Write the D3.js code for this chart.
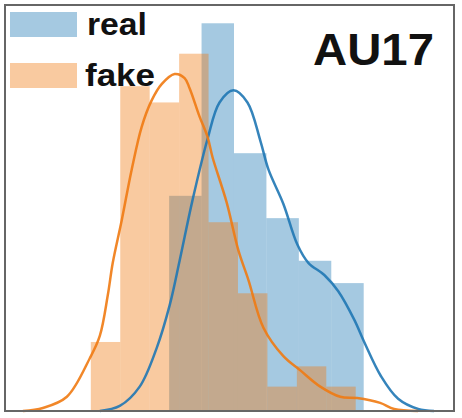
<!DOCTYPE html>
<html>
<head>
<meta charset="utf-8">
<script src="https://cdn.jsdelivr.net/npm/d3@7"></script>
<style>
  body { margin: 0; background: #fff; }
  text { font-family: "Liberation Sans", Arial, sans-serif; font-weight: bold; }
</style>
</head>
<body>
<script>
// histogram bin edges and densities (x in arbitrary AU17 intensity units)
var realEdges = [1.645, 1.97, 2.295, 2.62, 2.945, 3.27, 3.595];
var realDensity = [1.06, 1.91, 1.27, 0.95, 0.74, 0.63];

var fakeEdges = [0.86, 1.155, 1.45, 1.745, 2.04, 2.335, 2.63, 2.925, 3.22, 3.515];
var fakeDensity = [0.34, 1.60, 1.52, 1.76, 0.93, 0.58, 0.12, 0.22, 0.12];

// kde curves
var realKdeX = [0.95, 1.15, 1.35, 1.52, 1.65, 1.75, 1.88, 2.03, 2.15, 2.29, 2.43, 2.56, 2.64, 2.79, 2.93, 3.04, 3.20, 3.34, 3.50, 3.60, 3.77, 3.94, 4.14, 4.30];
var realKdeY = [0, 0.025, 0.12, 0.31, 0.52, 0.74, 1.04, 1.34, 1.52, 1.58, 1.52, 1.33, 1.19, 1.02, 0.82, 0.73, 0.67, 0.59, 0.45, 0.34, 0.17, 0.06, 0.01, 0];

var fakeKdeX = [0.18, 0.38, 0.62, 0.85, 0.95, 1.03, 1.08, 1.17, 1.27, 1.37, 1.47, 1.57, 1.70, 1.80, 1.85, 1.95, 2.03, 2.08, 2.22, 2.34, 2.44, 2.59, 2.79, 2.96, 3.16, 3.36, 3.53, 3.76, 3.90, 4.14];
var fakeKdeY = [0, 0.015, 0.07, 0.26, 0.37, 0.57, 0.73, 0.94, 1.19, 1.40, 1.53, 1.61, 1.66, 1.64, 1.59, 1.45, 1.35, 1.25, 1.03, 0.79, 0.645, 0.41, 0.27, 0.20, 0.12, 0.07, 0.064, 0.04, 0.01, 0];

var labels = ["real", "fake"];
var title = "AU17";

var width = 462, height = 418;
var plotL = 5, plotR = 454, plotT = 5, plotB = 411;

var blue = "#1f77b4", orange = "#f07a12";

var x = d3.scaleLinear().domain([0, 4.5]).range([plotL, plotR]);
var y = d3.scaleLinear().domain([0, 2.0]).range([plotB, plotT]);

var svg = d3.select("body")
    .append("svg")
    .attr("width", width)
    .attr("height", height);

function drawHist(edges, dens, color) {
    svg.append("g")
        .selectAll("rect")
        .data(dens)
        .enter()
        .append("rect")
        .attr("x", function(d, i){ return x(edges[i]); })
        .attr("width", function(d, i){ return x(edges[i+1]) - x(edges[i]); })
        .attr("y", function(d){ return y(d); })
        .attr("height", function(d){ return y(0) - y(d); })
        .attr("fill", color)
        .attr("fill-opacity", 0.4);
}

function drawKde(xs, ys, color) {
    var line = d3.line()
        .x(function(d){ return x(d); })
        .y(function(d, i){ return y(ys[i]); })
        .curve(d3.curveCatmullRom);
    svg.append("path")
        .attr("d", line(xs))
        .attr("fill", "none")
        .attr("stroke", color)
        .attr("stroke-width", 2.5)
        .attr("stroke-opacity", 0.9);
}

drawHist(realEdges, realDensity, blue);
drawHist(fakeEdges, fakeDensity, orange);
drawKde(realKdeX, realKdeY, blue);
drawKde(fakeKdeX, fakeKdeY, orange);

// frame
svg.append("rect")
    .attr("x", plotL)
    .attr("y", plotT)
    .attr("width", plotR - plotL)
    .attr("height", plotB - plotT)
    .attr("fill", "none")
    .attr("stroke", "#666")
    .attr("stroke-width", 2);

// legend
var legendColors = [blue, orange];
var legY = [12, 63];
var legTextX = [87, 85];
var legLen = [60, 70];
labels.forEach(function(lab, i){
    svg.append("rect")
        .attr("x", 10)
        .attr("y", legY[i])
        .attr("width", 67)
        .attr("height", 25)
        .attr("fill", legendColors[i])
        .attr("fill-opacity", 0.4);
    svg.append("text")
        .attr("x", legTextX[i])
        .attr("y", legY[i] + 23)
        .attr("font-size", 31)
        .attr("textLength", legLen[i])
        .attr("lengthAdjust", "spacingAndGlyphs")
        .attr("fill", "#111")
        .text(lab);
});

svg.append("text")
    .attr("x", 313)
    .attr("y", 65)
    .attr("font-size", 44)
    .attr("textLength", 121)
    .attr("lengthAdjust", "spacingAndGlyphs")
    .attr("fill", "#111")
    .text(title);
</script>
</body>
</html>
